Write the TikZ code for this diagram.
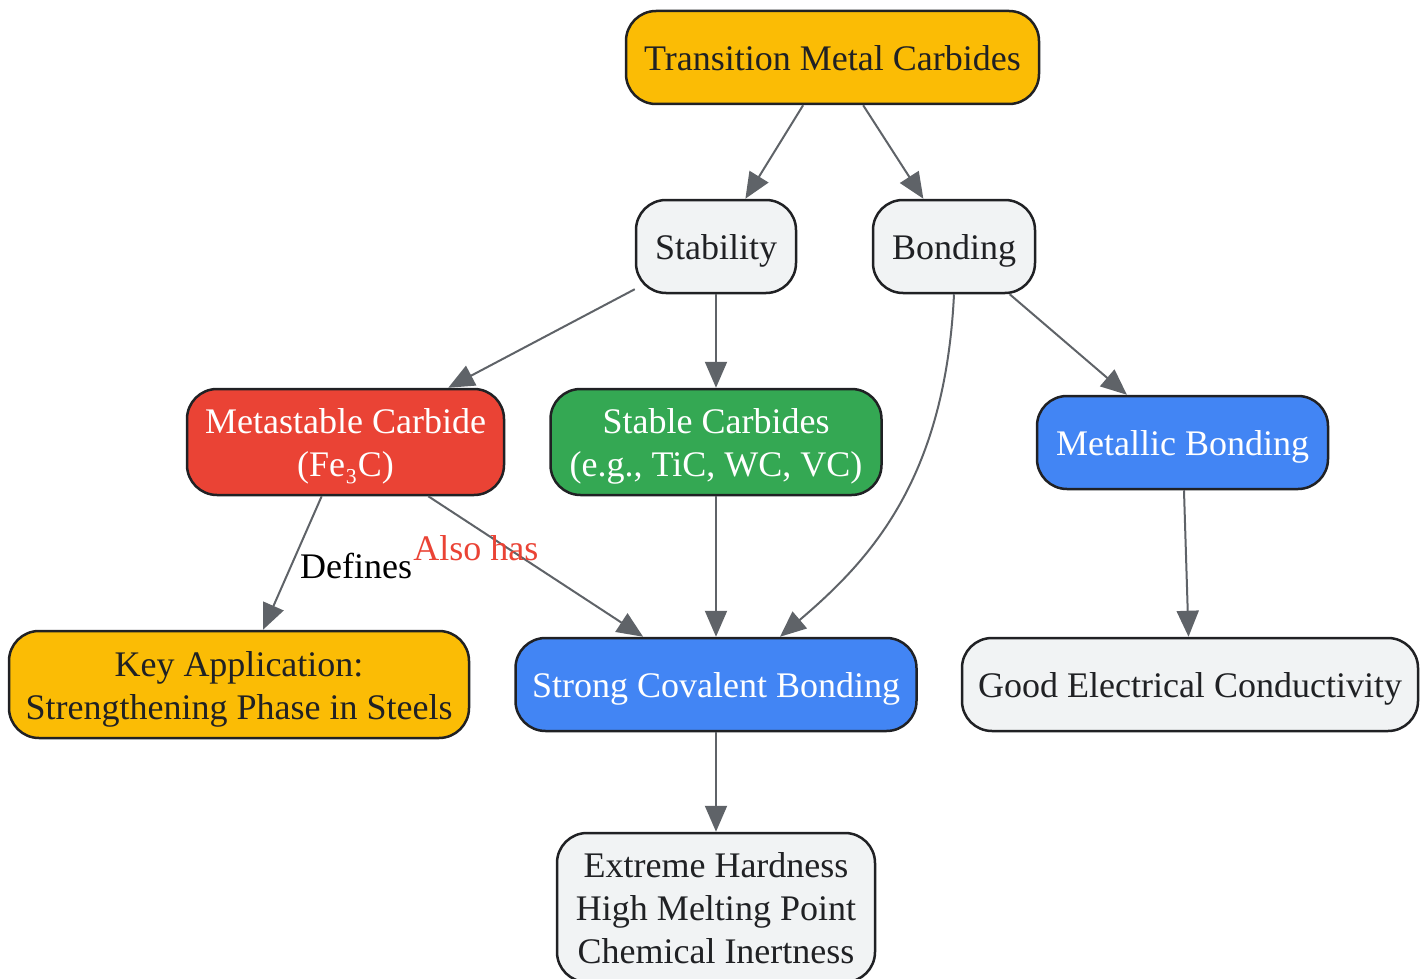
\documentclass[tikz,border=0pt]{standalone}
\usepackage{fontspec}
\setmainfont{Liberation Serif}
\usetikzlibrary{arrows.meta}
\definecolor{gyellow}{HTML}{FBBC05}
\definecolor{gred}{HTML}{EA4335}
\definecolor{ggreen}{HTML}{34A853}
\definecolor{gblue}{HTML}{4285F4}
\definecolor{ggray}{HTML}{F1F3F4}
\definecolor{boxline}{HTML}{202124}
\definecolor{ink}{HTML}{202124}
\definecolor{edgegray}{HTML}{5F6368}

\begin{document}
\begin{tikzpicture}[x=1pt,y=-1pt,
	box/.style={draw=boxline, line width=2.5pt, rounded corners=30pt, inner sep=0pt, align=center, text=ink, font=\fontsize{36}{43}\selectfont,
		execute at begin node={\rule{0pt}{0.92em}}, execute at end node={\rule[-0.22em]{0pt}{0pt}}},
	multi/.style={text height=#1, text depth=8pt},
	graybox/.style={box, fill=ggray},
	yellowbox/.style={box, fill=gyellow},
	redbox/.style={box, fill=gred, text=white},
	greenbox/.style={box, fill=ggreen, text=white},
	bluebox/.style={box, fill=gblue, text=white},
	link/.style={draw=edgegray, line width=2pt, -{Triangle[length=26pt,width=22pt]}},
	linklabel/.style={inner sep=0pt, font=\fontsize{36}{43}\selectfont}]
	% frame of the picture
	\useasboundingbox (0,0) rectangle (1425,979);
	% top
	\node[yellowbox, minimum width=413pt, minimum height=93pt] (tmc) at (832.5,57.5) {Transition Metal Carbides};
	% second row
	\node[graybox, minimum width=160pt, minimum height=93pt] (stability) at (716,246.5) {Stability};
	\node[graybox, minimum width=162pt, minimum height=93pt] (bonding) at (954,246.5) {Bonding};
	% third row
	\node[redbox, multi=77pt, minimum width=317pt, minimum height=106pt] (metastable) at (345.5,442) {Metastable Carbide\\(Fe₃C)};
	\node[greenbox, multi=77pt, minimum width=331pt, minimum height=106pt] (stable) at (716,442) {Stable Carbides\\(e.g., TiC, WC, VC)};
	\node[bluebox, minimum width=291pt, minimum height=93pt] (metallic) at (1182.5,442.5) {Metallic Bonding};
	% fourth row
	\node[yellowbox, multi=77pt, minimum width=460pt, minimum height=107pt] (keyapp) at (239,684.5) {Key Application:\\Strengthening Phase in Steels};
	\node[bluebox, minimum width=401pt, minimum height=93pt] (covalent) at (716,684.5) {Strong Covalent Bonding};
	\node[graybox, minimum width=456pt, minimum height=93pt] (conduct) at (1190,684.5) {Good Electrical Conductivity};
	% bottom
	\node[graybox, multi=120pt, minimum width=318pt, minimum height=149pt] (props) at (716,907.5) {Extreme Hardness\\High Melting Point\\Chemical Inertness};
	% connectors
	\draw[link] (tmc) -- (stability);
	\draw[link] (tmc) -- (bonding);
	\draw[link] (stability) -- (metastable);
	\draw[link] (stability) -- (stable);
	\draw[link] (bonding) -- (metallic);
	\draw[link] (bonding.south) .. controls (945,480) and (870,560) .. ([xshift=64pt]covalent.north);
	\draw[link] (metastable) -- (keyapp) node[linklabel, pos=.52, xshift=65pt] (defines) {Defines};
	\draw[link] (metastable) -- (covalent) node[linklabel, pos=.37, xshift=-32pt, text=gred] (alsohas) {Also has};
	\draw[link] (stable) -- (covalent);
	\draw[link] (metallic) -- (conduct);
	\draw[link] (covalent) -- (props);
\end{tikzpicture}
\end{document}
